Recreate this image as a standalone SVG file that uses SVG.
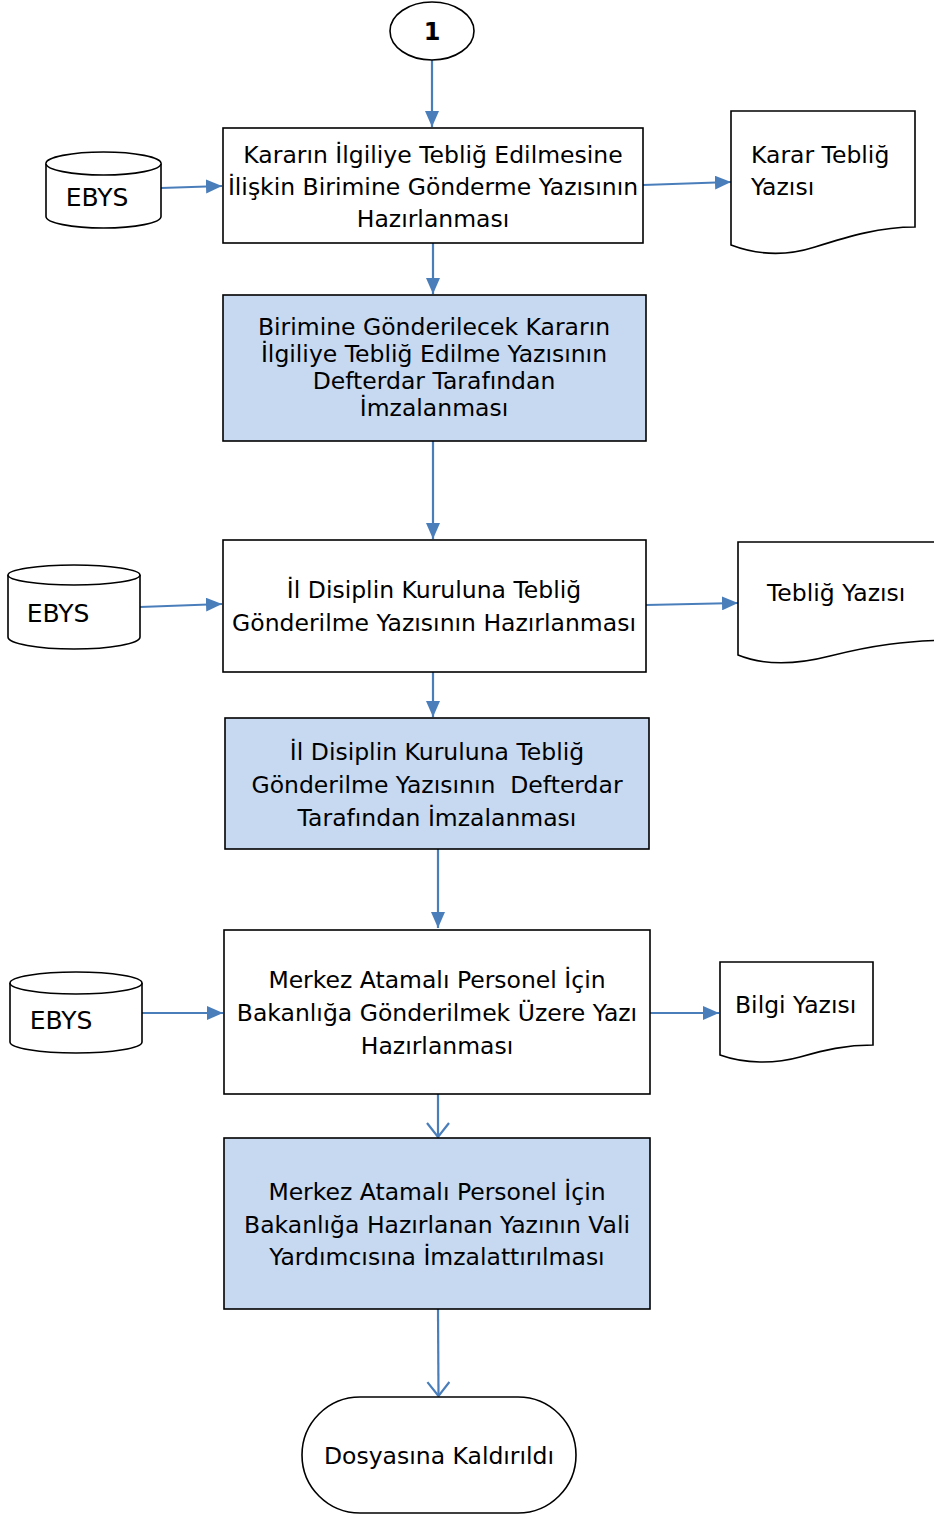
<svg xmlns="http://www.w3.org/2000/svg" width="934" height="1514" viewBox="0 0 934 1514">
<style>
.box{fill:#ffffff;stroke:#000;stroke-width:1.6}
.blue{fill:#c6d9f1;stroke:#000;stroke-width:1.6}
.shape{fill:#ffffff;stroke:#000;stroke-width:1.6}
.t{font-family:"DejaVu Sans",Verdana,sans-serif;font-size:23.5px;fill:#000;text-anchor:middle;white-space:pre}
.tl{font-family:"DejaVu Sans",Verdana,sans-serif;font-size:23.5px;fill:#000;white-space:pre}
.e{font-family:"DejaVu Sans",Verdana,sans-serif;font-size:25px;fill:#000;text-anchor:middle}
.c{stroke:#4a7ebb;stroke-width:2.2;fill:none}
.f{marker-end:url(#ah)}
.o{marker-end:url(#av)}
</style>
<defs>
<marker id="ah" viewBox="0 0 16 14" refX="16" refY="7" markerWidth="16" markerHeight="14" markerUnits="userSpaceOnUse" orient="auto">
<path d="M0,0 L16,7 L0,14 Z" fill="#4a7ebb"/>
</marker>
<marker id="av" viewBox="0 0 16 24" refX="15" refY="12" markerWidth="16" markerHeight="24" markerUnits="userSpaceOnUse" orient="auto">
<path d="M1,1 L15,12 L1,23" fill="none" stroke="#4a7ebb" stroke-width="2.2"/>
</marker>
</defs>

<g id="connectors">
<path class="c f" d="M432,60 V127"/>
<path class="c f" d="M161,188 L222,186"/>
<path class="c f" d="M643,185 L731,182"/>
<path class="c f" d="M433,243 V294"/>
<path class="c f" d="M433,441 V539"/>
<path class="c f" d="M140,607 L222,604"/>
<path class="c f" d="M646,605 L738,603"/>
<path class="c f" d="M433,672 V717"/>
<path class="c f" d="M438,849 V928"/>
<path class="c f" d="M142,1013 L223,1013"/>
<path class="c f" d="M650,1013 L719,1013"/>
<path class="c o" d="M438,1094 V1137"/>
<path class="c o" d="M438,1309 L438.5,1396"/>
</g>

<g id="start">
<ellipse class="shape" cx="432" cy="31" rx="42" ry="29"/>
<text x="432" y="40" font-family="DejaVu Sans,Verdana,sans-serif" font-size="24" font-weight="bold" text-anchor="middle">1</text>
</g>

<g id="box1">
<rect class="box" x="223" y="128" width="420" height="115"/>
<text class="t" x="433" y="163">Kararın İlgiliye Tebliğ Edilmesine</text>
<text class="t" x="433" y="195">İlişkin Birimine Gönderme Yazısının</text>
<text class="t" x="433" y="227">Hazırlanması</text>
</g>

<g id="ebys1">
<path class="shape" d="M46,163.5 A57.5,11.5 0 0 1 161,163.5 V216.5 A57.5,11.5 0 0 1 46,216.5 Z"/>
<path class="shape" d="M46,163.5 A57.5,11.5 0 0 0 161,163.5" fill="none"/>
<text class="e" x="97" y="206">EBYS</text>
</g>

<g id="doc1">
<path class="shape" d="M731,111 H915 V227 C880,227 850,236 815,247 C790,255 760,256 731,245 Z"/>
<text class="tl" x="751" y="163">Karar Tebliğ</text>
<text class="tl" x="751" y="195">Yazısı</text>
</g>

<g id="box2">
<rect class="blue" x="223" y="295" width="423" height="146"/>
<text class="t" x="434" y="335">Birimine Gönderilecek Kararın</text>
<text class="t" x="434" y="362">İlgiliye Tebliğ Edilme Yazısının</text>
<text class="t" x="434" y="389">Defterdar Tarafından</text>
<text class="t" x="434" y="416">İmzalanması</text>
</g>

<g id="box3">
<rect class="box" x="223" y="540" width="423" height="132"/>
<text class="t" x="434" y="598">İl Disiplin Kuruluna Tebliğ</text>
<text class="t" x="434" y="631">Gönderilme Yazısının Hazırlanması</text>
</g>

<g id="ebys2">
<path class="shape" d="M8,575 A66,10 0 0 1 140,575 V637 A66,12 0 0 1 8,637 Z"/>
<path class="shape" d="M8,575 A66,10 0 0 0 140,575" fill="none"/>
<text class="e" x="58" y="622">EBYS</text>
</g>

<g id="doc2">
<path class="shape" d="M738,542 H960 V640 C905,640 870,646 830,656 C795,665 765,666 738,655 Z"/>
<text class="tl" x="767" y="601">Tebliğ Yazısı</text>
</g>

<g id="box4">
<rect class="blue" x="225" y="718" width="424" height="131"/>
<text class="t" x="437" y="760">İl Disiplin Kuruluna Tebliğ</text>
<text class="t" x="437" y="793">Gönderilme Yazısının  Defterdar</text>
<text class="t" x="437" y="826">Tarafından İmzalanması</text>
</g>

<g id="box5">
<rect class="box" x="224" y="930" width="426" height="164"/>
<text class="t" x="437" y="988">Merkez Atamalı Personel İçin</text>
<text class="t" x="437" y="1021">Bakanlığa Gönderilmek Üzere Yazı</text>
<text class="t" x="437" y="1054">Hazırlanması</text>
</g>

<g id="ebys3">
<path class="shape" d="M10,983 A66,11 0 0 1 142,983 V1042 A66,11 0 0 1 10,1042 Z"/>
<path class="shape" d="M10,983 A66,11 0 0 0 142,983" fill="none"/>
<text class="e" x="61" y="1029">EBYS</text>
</g>

<g id="doc3">
<path class="shape" d="M720,962 H873 V1045 C845,1045 825,1050 800,1057 C775,1064 745,1064 720,1055 Z"/>
<text class="tl" x="735" y="1013">Bilgi Yazısı</text>
</g>

<g id="box6">
<rect class="blue" x="224" y="1138" width="426" height="171"/>
<text class="t" x="437" y="1200">Merkez Atamalı Personel İçin</text>
<text class="t" x="437" y="1233">Bakanlığa Hazırlanan Yazının Vali</text>
<text class="t" x="437" y="1265">Yardımcısına İmzalattırılması</text>
</g>

<g id="end">
<rect class="shape" x="302" y="1397" width="274" height="116" rx="58" ry="58"/>
<text class="t" x="439" y="1464">Dosyasına Kaldırıldı</text>
</g>
</svg>
